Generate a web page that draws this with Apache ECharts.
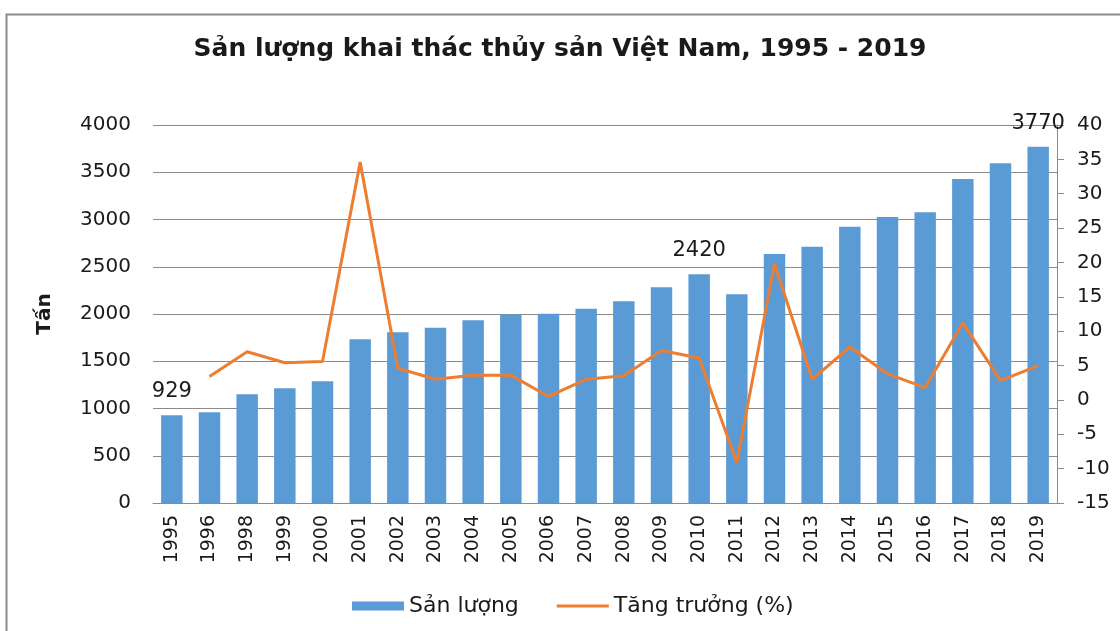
<!DOCTYPE html>
<html>
<head>
<meta charset="utf-8">
<script src="https://cdn.jsdelivr.net/npm/echarts@6/dist/echarts.min.js"></script>
<style>
  html, body { margin: 0; padding: 0; background: #fff; }
  #container { width: 1120px; height: 631px; }
</style>
</head>
<body>
<div id="container"></div>
<script>
  const years = ['1995', '1996', '1998', '1999', '2000', '2001', '2002', '2003', '2004', '2005', '2006', '2007',
    '2008', '2009', '2010', '2011', '2012', '2013', '2014', '2015', '2016', '2017', '2018', '2019'];
  // sản lượng (tấn)
  const output = [929, 960, 1150, 1214, 1288, 1732, 1806, 1855, 1933, 1995, 2003, 2056,
    2134, 2282, 2420, 2208, 2635, 2712, 2924, 3026, 3076, 3428, 3594, 3770];
  // tăng trưởng (%)
  const growth = [null, 3.4, 7.0, 5.4, 5.6, 34.6, 4.6, 3.0, 3.6, 3.6, 0.5, 3.0,
    3.5, 7.2, 6.1, -9.1, 19.8, 3.0, 7.7, 3.8, 1.8, 11.2, 2.8, 5.0];
  const labelledYears = ['1995', '2010', '2019'];

  const font = '"DejaVu Sans", sans-serif';
  const textColor = '#1a1a1a';
  const gridColor = '#8a8a8a';

  // thin line legend icon; the tiny corner triangles keep the box 52x9
  const lineIcon = 'path://M0,0 L0.01,0 L0,0.01 Z M0,3 L52,3 L52,6 L0,6 Z M52,9 L51.99,9 L52,8.99 Z';

  const chart = echarts.init(document.getElementById('container'));

  const option = {
    backgroundColor: '#fff',
    animation: false,
    textStyle: { fontFamily: font, color: textColor },
    title: {
      text: 'Sản lượng khai thác thủy sản Việt Nam, 1995 - 2019',
      left: 'center',
      top: 32,
      textStyle: { fontFamily: font, fontSize: 25, fontWeight: 'bold', color: textColor },
    },
    graphic: [
      {
        type: 'rect',
        shape: { x: 6.5, y: 14.5, width: 1200, height: 700 },
        style: { fill: 'none', stroke: '#8c8c8c', lineWidth: 2 },
        silent: true,
      },
    ],
    legend: {
      left: 347,
      top: 590,
      itemWidth: 52,
      itemHeight: 9,
      itemGap: 38,
      textStyle: { fontFamily: font, fontSize: 22, color: textColor },
      data: [
        { name: 'Sản lượng', icon: 'rect' },
        { name: 'Tăng trưởng (%)', icon: lineIcon, itemStyle: { color: '#ED7D31' } },
      ],
    },
    grid: { left: 153, right: 63, top: 125, bottom: 128 },
    xAxis: {
      type: 'category',
      data: years,
      axisLine: { lineStyle: { color: gridColor, width: 1 } },
      axisTick: { show: false },
      axisLabel: { rotate: 90, fontSize: 19, color: textColor, margin: 12, fontFamily: font },
    },
    yAxis: [
      {
        type: 'value',
        min: 0,
        max: 4000,
        interval: 500,
        name: 'Tấn',
        nameLocation: 'middle',
        nameGap: 98,
        nameTextStyle: { fontFamily: font, fontSize: 20, fontWeight: 'bold', color: textColor },
        axisLine: { show: false },
        axisTick: { show: false },
        axisLabel: { fontSize: 20, color: textColor, margin: 22, fontFamily: font, formatter: (v) => String(v) },
        splitLine: { lineStyle: { color: gridColor, width: 1 } },
      },
      {
        type: 'value',
        min: -15,
        max: 40,
        interval: 5,
        position: 'right',
        axisLine: { show: true, lineStyle: { color: gridColor, width: 1 } },
        axisTick: { show: true, length: 7, lineStyle: { color: gridColor } },
        axisLabel: { fontSize: 20, color: textColor, margin: 20, fontFamily: font },
        splitLine: { show: false },
      },
    ],
    series: [
      {
        name: 'Sản lượng',
        type: 'bar',
        barWidth: '57%',
        itemStyle: { color: '#5B9BD5' },
        data: output.map((v, i) => ({
          value: v,
          label: {
            show: labelledYears.includes(years[i]),
            position: 'top',
            distance: 13,
            fontSize: 21,
            color: textColor,
            fontFamily: font,
          },
        })),
      },
      {
        name: 'Tăng trưởng (%)',
        type: 'line',
        yAxisIndex: 1,
        symbol: 'none',
        lineStyle: { color: '#ED7D31', width: 3 },
        itemStyle: { color: '#ED7D31' },
        data: growth,
      },
    ],
  };
  chart.setOption(option);
</script>
</body>
</html>
